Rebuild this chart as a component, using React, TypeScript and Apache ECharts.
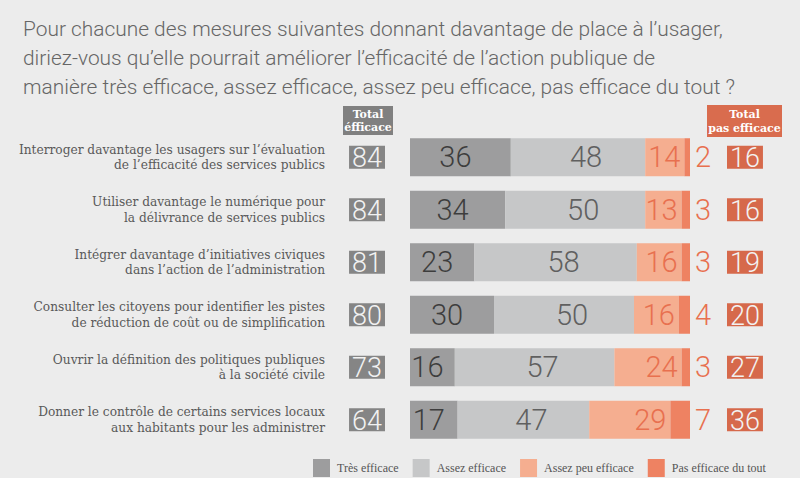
import React, { useEffect, useRef } from "react";
import * as echarts from "echarts";

const categories = [
  "Interroger davantage les usagers sur l’évaluation\nde l’efficacité des services publics",
  "Utiliser davantage le numérique pour\nla délivrance de services publics",
  "Intégrer davantage d’initiatives civiques\ndans l’action de l’administration",
  "Consulter les citoyens pour identifier les pistes\nde réduction de coût ou de simplification",
  "Ouvrir la définition des politiques publiques\nà la société civile",
  "Donner le contrôle de certains services locaux\naux habitants pour les administrer",
];
const seriesNames = ["Très efficace", "Assez efficace", "Assez peu efficace", "Pas efficace du tout"];
const tresEfficace = [36, 34, 23, 30, 16, 17];
const assezEfficace = [48, 50, 58, 50, 57, 47];
const assezPeuEfficace = [14, 13, 16, 16, 24, 29];
const pasEfficace = [2, 3, 3, 4, 3, 7];
const totalEfficace = [84, 84, 81, 80, 73, 64];
const totalPasEfficace = [16, 16, 19, 20, 27, 36];

const titleText =
  "Pour chacune des mesures suivantes donnant davantage de place à l’usager,\ndiriez-vous qu’elle pourrait améliorer l’efficacité de l’action publique de\nmanière très efficace, assez efficace, assez peu efficace, pas efficace du tout ?";

const NUM_FONT = "Roboto";
const SERIF = "'DejaVu Serif', serif";
const SERIF2 = "'Liberation Serif', serif";

export default function App() {
  const ref = useRef<HTMLDivElement>(null);
  useEffect(() => {
    if (!ref.current) return;
    const chart = echarts.init(ref.current, null, { renderer: "svg" });
    const colors = ["#9d9d9e", "#c6c7c8", "#f5ae90", "#ee8262"];
    const labelColors = ["#3d3d3d", "#606060", "#e8704f", "#e8704f"];
    const data = [tresEfficace, assezEfficace, assezPeuEfficace, pasEfficace];
    const labelCfg = [
      { position: "inside", offset: [-5, 0] },
      { position: "inside", offset: [8, 0] },
      { position: "insideRight", distance: 4 },
      { position: "right", distance: 5 },
    ];
    const boxStyle = (bg: string) => ({
      backgroundColor: bg,
      color: "#f2f2f2",
      fontFamily: NUM_FONT,
      fontWeight: 300,
      fontSize: 27,
      lineHeight: 23,
      height: 23,
      padding: [1, 3, -1, 3],
    });
    const option: any = {
      animation: false,
      backgroundColor: "#ececec",
      title: {
        text: titleText,
        left: 18,
        top: 9,
        textStyle: {
          fontFamily: NUM_FONT,
          fontWeight: 300,
          fontSize: 20.9,
          lineHeight: 29,
          color: "#666666",
        },
      },
      legend: {
        left: 308,
        top: 454,
        itemWidth: 17,
        itemHeight: 18,
        itemGap: 14,
        icon: "rect",
        data: seriesNames,
        textStyle: { fontFamily: SERIF2, fontSize: 12, color: "#555555", padding: [0, 0, 0, 2] },
      },
      grid: { left: 410, right: 110, top: 131, bottom: 32, outerBoundsMode: "none", containLabel: false },
      xAxis: { type: "value", min: 0, max: 100, show: false },
      yAxis: [
        {
          type: "category",
          inverse: true,
          data: categories,
          axisLine: { show: false },
          axisTick: { show: false },
          axisLabel: {
            margin: 85,
            fontFamily: SERIF,
            fontSize: 12.2,
            lineHeight: 15.5,
            color: "#595959",
            align: "right",
          },
        },
        {
          type: "category",
          inverse: true,
          position: "left",
          data: categories,
          axisLine: { show: false },
          axisTick: { show: false },
          axisLabel: {
            margin: 25,
            formatter: (_v: string, i: number) => `{b|${totalEfficace[i]}}`,
            rich: { b: boxStyle("#858585") },
          },
        },
        {
          type: "category",
          inverse: true,
          position: "right",
          data: categories,
          axisLine: { show: false },
          axisTick: { show: false },
          axisLabel: {
            margin: 37,
            formatter: (_v: string, i: number) => `{b|${totalPasEfficace[i]}}`,
            rich: { b: boxStyle("#d6694b") },
          },
        },
      ],
      series: seriesNames.map((name, k) => ({
        name,
        type: "bar",
        stack: "total",
        yAxisIndex: 0,
        barWidth: 38,
        data: data[k],
        itemStyle: { color: colors[k] },
        label: {
          show: true,
          ...labelCfg[k],
          fontFamily: NUM_FONT,
          fontWeight: 300,
          fontSize: 29,
          color: labelColors[k],
        },
      })),
      graphic: [
        {
          type: "group",
          left: 343,
          top: 106,
          children: [
            { type: "rect", shape: { x: 0, y: 0, width: 50, height: 29 }, style: { fill: "#808080" } },
            {
              type: "text",
              x: 25,
              y: 15,
              style: {
                text: "Total\néfficace",
                fill: "#ffffff",
                font: `bold 11px ${SERIF}`,
                lineHeight: 13.5,
                align: "center",
                verticalAlign: "middle",
              },
            },
          ],
        },
        {
          type: "group",
          left: 707,
          top: 105,
          children: [
            { type: "rect", shape: { x: 0, y: 0, width: 75, height: 32 }, style: { fill: "#d96c4e" } },
            {
              type: "text",
              x: 37.5,
              y: 16.5,
              style: {
                text: "Total\npas efficace",
                fill: "#ffffff",
                font: `bold 11px ${SERIF}`,
                lineHeight: 14,
                align: "center",
                verticalAlign: "middle",
              },
            },
          ],
        },
      ],
    };
    chart.setOption(option);
    return () => chart.dispose();
  }, []);
  return (
    <div
      ref={ref}
      style={{ position: "fixed", left: 0, top: 0, width: 800, height: 478 }}
    />
  );
}
